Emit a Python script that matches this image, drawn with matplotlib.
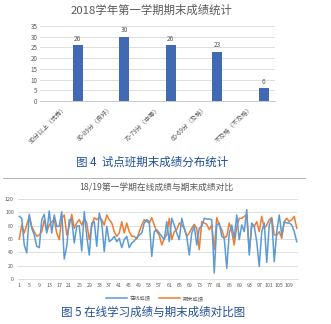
import numpy as np
import matplotlib
matplotlib.use('Agg')
import matplotlib.pyplot as plt

plt.rcParams['font.family'] = ['Noto Sans CJK SC', 'DejaVu Sans']

# chart 1: score distribution
bar_title = '2018学年第一学期期末成绩统计'
bar_labels = ['90分以上（优秀）', '80-89分（良好）', '70-79分（中等）', '60-69分（及格）', '不及格（不及格）']
bar_values = [26, 30, 26, 23, 6]
caption1 = '图 4  试点班期末成绩分布统计'

# chart 2: online vs final scores per student
line_title = '18/19第一学期在线成绩与期末成绩对比'
online_scores = [94, 91, 51, 39, 97, 76, 66, 49, 47, 89,
                 97, 69, 102, 69, 96, 79, 79, 101, 30, 49,
                 89, 89, 54, 79, 80, 42, 101, 64, 36, 84,
                 86, 49, 99, 84, 41, 79, 56, 59, 64, 56,
                 61, 47, 59, 64, 47, 54, 57, 62, 66, 69,
                 84, 89, 86, 34, 71, 74, 69, 64, 59, 86,
                 56, 91, 81, 69, 59, 91, 76, 64, 36, 69,
                 79, 51, 76, 79, 91, 90, 90, 89, 9, 81,
                 84, 64, 61, 16, 69, 81, 61, 96, 59, 81,
                 71, 104, 36, 84, 79, 56, 19, 71, 84, 25,
                 81, 91, 26, 71, 96, 66, 86, 84, 84, 81,
                 71, 56]
final_scores = [60, 81, 69, 81, 94, 79, 71, 64, 66, 71,
                89, 71, 81, 86, 89, 69, 59, 91, 96, 66,
                79, 97, 76, 84, 89, 81, 91, 84, 59, 79,
                92, 89, 92, 89, 81, 96, 89, 84, 71, 64,
                69, 86, 69, 84, 71, 64, 64, 60, 71, 81,
                89, 86, 84, 92, 81, 71, 66, 51, 61, 66,
                91, 59, 71, 74, 84, 81, 76, 64, 69, 76,
                82, 76, 44, 86, 84, 82, 74, 81, 44, 92,
                81, 74, 62, 64, 84, 71, 51, 79, 91, 91,
                94, 96, 41, 79, 79, 86, 71, 94, 76, 81,
                89, 92, 66, 66, 71, 61, 86, 91, 86, 89,
                94, 76]
series_names = ['在线成绩', '期末成绩']
caption2 = '图 5 在线学习成绩与期末成绩对比图'

W, H = 331, 324
fig = plt.figure(figsize=(W / 100, H / 100), dpi=100)
gray = '#595959'
grid = '#D9D9D9'
blue_cap = '#1F4E9A'

def box(l, t, r, b):
    return [l / W, 1 - b / H, (r - l) / W, (b - t) / H]

# ---- bar chart ----
ax1 = fig.add_axes(box(40, 26, 275, 101))
x = np.arange(len(bar_values))
bars = ax1.bar(x + 0.31, bar_values, width=0.22, color='#4169B4', zorder=3)
for b, v in zip(bars, bar_values):
    ax1.text(b.get_x() + b.get_width() / 2, v + 1.2, str(v), ha='center', va='bottom',
             fontsize=4.8, color=gray)
ax1.set_xlim(-0.5, 4.55)
ax1.set_ylim(0, 35)
ax1.set_yticks(range(0, 36, 5))
ax1.yaxis.grid(True, color=grid, lw=0.6, zorder=0)
ax1.set_xticks(x)
ax1.set_xticklabels(bar_labels, rotation=45, ha='right', rotation_mode='anchor',
                    fontsize=4.3, color=gray)
ax1.tick_params(length=0, labelsize=4.5, colors=gray, pad=2)
for s in ['top', 'right', 'left']:
    ax1.spines[s].set_visible(False)
ax1.spines['bottom'].set_color('#BFBFBF')
ax1.spines['bottom'].set_linewidth(0.6)
fig.text(152 / W, 1 - 10 / H, bar_title, ha='center', va='center', fontsize=8.2, color=gray)
fig.text(152 / W, 1 - 162 / H, caption1, ha='center', va='center', fontsize=8.3, color=blue_cap)

# frame line of second chart
fig.add_artist(plt.Line2D([3 / W, 305 / W], [1 - 178 / H, 1 - 178 / H], color='#A6A6A6', lw=0.6))

# ---- line chart ----
ax2 = fig.add_axes(box(18, 199, 298, 279))
n = np.arange(1, len(online_scores) + 1)
ax2.plot(n, online_scores, color='#5B9BD5', lw=1.1, label=series_names[0], zorder=3)
ax2.plot(n, final_scores, color='#ED7D31', lw=1.1, label=series_names[1], zorder=2)
ax2.set_xlim(0.5, len(n) + 0.5)
ax2.set_ylim(0, 120)
ax2.set_yticks(range(0, 121, 20))
ax2.set_xticks(range(1, len(n) + 1, 4))
ax2.yaxis.grid(True, color=grid, lw=0.6, zorder=0)
ax2.tick_params(length=0, labelsize=3.8, colors=gray, pad=3)
for s in ['top', 'right', 'left']:
    ax2.spines[s].set_visible(False)
ax2.spines['bottom'].set_color('#D9D9D9')
ax2.spines['bottom'].set_linewidth(0.6)
fig.text(156 / W, 1 - 188 / H, line_title, ha='center', va='center', fontsize=6.3, color=gray)
fig.legend(loc='center', bbox_to_anchor=(155 / W, 1 - 298 / H), ncol=2, frameon=False,
           fontsize=3.8, handlelength=4, columnspacing=1.5, handletextpad=0.5,
           labelcolor=gray)
fig.text(153 / W, 1 - 312 / H, caption2, ha='center', va='center', fontsize=8.3, color=blue_cap)

fig.savefig('out.png', dpi=100, facecolor='white')
